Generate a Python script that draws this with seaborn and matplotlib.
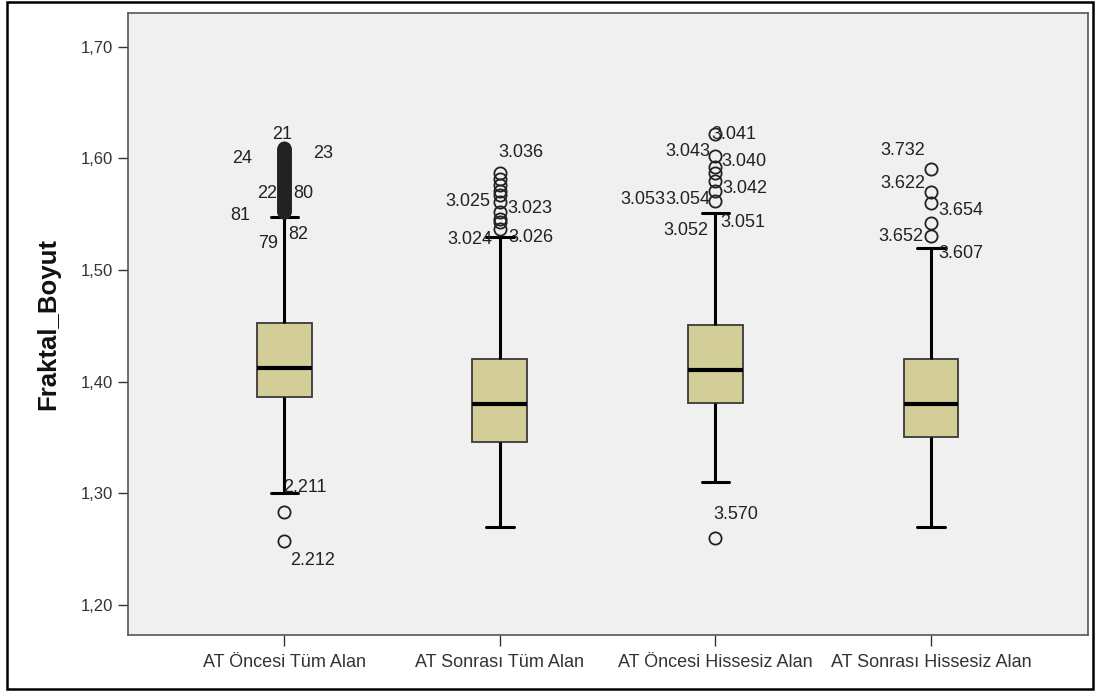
import matplotlib
matplotlib.use("Agg")
import matplotlib.pyplot as plt
from matplotlib.patches import Rectangle
import pandas as pd
import seaborn as sns

# Gruplar (x ekseni)
gruplar = ["AT Öncesi Tüm Alan", "AT Sonrası Tüm Alan",
           "AT Öncesi Hissesiz Alan", "AT Sonrası Hissesiz Alan"]

# Kutu grafiği özetleri
alt_biyik = [1.300, 1.270, 1.310, 1.270]
q1 = [1.386, 1.346, 1.381, 1.350]
medyan = [1.412, 1.380, 1.410, 1.380]
q3 = [1.452, 1.420, 1.451, 1.420]
ust_biyik = [1.547, 1.529, 1.551, 1.520]

# Aykırı değerler (1. grupta üst uçta çok sayıda, üst üste binen değer var)
aykiri_1 = [1.2835, 1.2573,
            1.5515, 1.552, 1.5527, 1.5533, 1.554, 1.5546, 1.5553, 1.556, 1.5566,
            1.5572, 1.558, 1.5586, 1.5592, 1.56, 1.5606, 1.5613, 1.562, 1.5626,
            1.5632, 1.564, 1.5646, 1.5652, 1.566, 1.5667, 1.5673, 1.568, 1.5686,
            1.5693, 1.57, 1.5706, 1.5713, 1.572, 1.5727, 1.5733, 1.574, 1.5746,
            1.5753, 1.576, 1.5766, 1.5773, 1.578, 1.5786, 1.5793, 1.58, 1.5806,
            1.5813, 1.582, 1.5826, 1.5833, 1.584, 1.5846, 1.5853, 1.586, 1.5866,
            1.5873, 1.588, 1.5886, 1.5893, 1.59, 1.5906, 1.5913, 1.592, 1.5926,
            1.5933, 1.594, 1.5946, 1.5953, 1.596, 1.5966, 1.5973, 1.598, 1.5986,
            1.5993, 1.6, 1.6006, 1.6013, 1.602, 1.6026, 1.6033, 1.604, 1.6046,
            1.6053, 1.606, 1.6066, 1.6073, 1.608, 1.6086, 1.6093]
aykiri_2 = [1.587, 1.581, 1.576, 1.571, 1.567, 1.561, 1.552, 1.546, 1.543, 1.537]
aykiri_3 = [1.622, 1.602, 1.592, 1.587, 1.580, 1.571, 1.562, 1.260]
aykiri_4 = [1.590, 1.570, 1.560, 1.542, 1.530]
aykirilar = [aykiri_1, aykiri_2, aykiri_3, aykiri_4]

# Aykırı değer etiketleri: (grup, metin, değer)
etiketler = [
    (0, "21", 1.6208), (0, "24", 1.600), (0, "23", 1.6038), (0, "22", 1.568),
    (0, "80", 1.568), (0, "81", 1.549), (0, "79", 1.524), (0, "82", 1.532),
    (0, "2.211", 1.305), (0, "2.212", 1.240),
    (1, "3.036", 1.605), (1, "3.025", 1.561), (1, "3.023", 1.5554),
    (1, "3.024", 1.527), (1, "3.026", 1.5286),
    (2, "3.041", 1.6208), (2, "3.043", 1.6058), (2, "3.040", 1.5969),
    (2, "3.042", 1.573), (2, "3.053", 1.5626), (2, "3.054", 1.5626),
    (2, "3.052", 1.5357), (2, "3.051", 1.542), (2, "3.570", 1.2806),
    (3, "3.732", 1.6073), (3, "3.622", 1.5775), (3, "3.654", 1.553),
    (3, "3.652", 1.5297), (3, "3.607", 1.5149),
]
# etiketlerin yatay kayması (piksel) ve hizalaması
kaymalar = [
    (-2.5, "center"), (-32, "right"), (28.5, "left"), (-7.5, "right"),
    (8.5, "left"), (-34.5, "right"), (-6.5, "right"), (3.5, "left"),
    (-1.5, "left"), (5.5, "left"),
    (-2, "left"), (-10, "right"), (7, "left"), (-8, "right"), (8, "left"),
    (-4, "left"), (-5.5, "right"), (6, "left"), (7, "left"), (-50.5, "right"),
    (-5.5, "right"), (-7.5, "right"), (4.5, "left"), (-2.5, "left"),
    (-6, "right"), (-6, "right"), (7, "left"), (-8, "right"), (7, "left"),
]

# Ham veri: çeyrekler sabit kalsın diye özet değerler tekrarlanır
n = 200
satirlar = []
for i, g in enumerate(gruplar):
    degerler = (aykirilar[i] + [alt_biyik[i], ust_biyik[i]]
                + [q1[i]] * n + [medyan[i]] * n + [q3[i]] * n)
    satirlar += [(g, v) for v in degerler]
df = pd.DataFrame(satirlar, columns=["Grup", "Fraktal_Boyut"])

sns.set_style("white")
plt.rcParams["font.family"] = ["Liberation Sans", "DejaVu Sans"]

fig = plt.figure(figsize=(11.01, 6.93), dpi=100)
ax = fig.add_axes([128 / 1101, 58 / 693, 960 / 1101, 622 / 693])
ax.set_facecolor("#F0F0F0")

sns.boxplot(data=df, x="Grup", y="Fraktal_Boyut", order=gruplar,
            color="#D3CE97", saturation=1, width=0.255, whis=1.5,
            linecolor="black", fliersize=8.5,
            boxprops=dict(edgecolor="#3a3a3a", linewidth=1.3),
            medianprops=dict(color="black", linewidth=3),
            whiskerprops=dict(color="black", linewidth=2.2),
            capprops=dict(color="black", linewidth=2.2),
            flierprops=dict(marker="o", markersize=8.8, markerfacecolor="none",
                            markeredgecolor="#222222", markeredgewidth=1.3),
            ax=ax)

# Aykırı değer etiketleri
for (g, metin, y), (dx, ha) in zip(etiketler, kaymalar):
    ax.annotate(metin, (g, y), xytext=(dx * 0.72, 0), textcoords="offset points",
                ha=ha, va="center", fontsize=13, color="#222222")

ax.set_xlim(-0.726, 3.7285)
ax.set_ylim(1.1731, 1.730)
yticks = [1.2, 1.3, 1.4, 1.5, 1.6, 1.7]
ax.set_yticks(yticks)
ax.set_yticklabels([f"{t:.2f}".replace(".", ",") for t in yticks])
ax.tick_params(axis="y", length=7.2, width=1, pad=3.6, labelsize=12,
               colors="#333333", left=True)
ax.tick_params(axis="x", length=8, width=1, pad=5.5, labelsize=13,
               colors="#333333", bottom=True)
ax.set_xlabel("")
ax.set_ylabel("Fraktal_Boyut", fontsize=18.5, fontweight="bold", color="#111111")
ax.yaxis.set_label_coords(-0.071, 0.5)
for s in ax.spines.values():
    s.set_color("#555555")
    s.set_linewidth(1.2)

# Dış çerçeve
fig.patches.append(Rectangle((7 / 1101, 4 / 693), 1086 / 1101, 687 / 693,
                             transform=fig.transFigure, fill=False,
                             edgecolor="black", linewidth=1.8))

fig.savefig("out.png", dpi=100)
